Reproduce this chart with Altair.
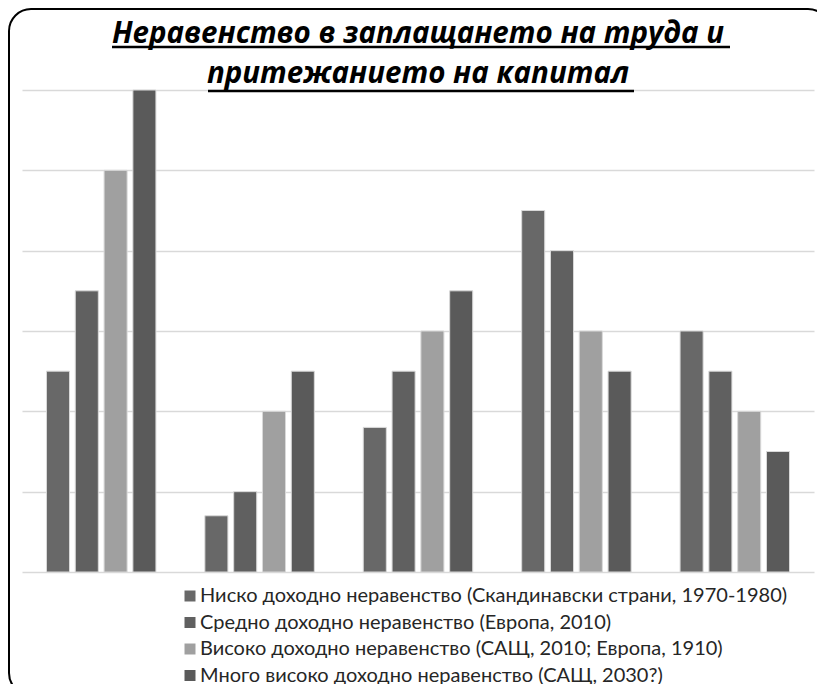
import altair as alt
import pandas as pd

groups = ["1", "2", "3", "4", "5"]
series = [
    "Ниско доходно неравенство (Скандинавски страни, 1970-1980)",
    "Средно доходно неравенство (Европа, 2010)",
    "Високо доходно неравенство (САЩ, 2010; Европа, 1910)",
    "Много високо доходно неравенство (САЩ, 2030?)",
]
low = [2.5, 0.7, 1.8, 4.5, 3.0]
mid = [3.5, 1.0, 2.5, 4.0, 2.5]
high = [5.0, 2.0, 3.0, 3.0, 2.0]
very_high = [6.0, 2.5, 3.5, 2.5, 1.5]
colors = ["#686868", "#606060", "#a0a0a0", "#5a5a5a"]
title_lines = ["Неравенство в заплащането на труда и", "притежанието на капитал"]

rows = []
for s, vals in zip(series, [low, mid, high, very_high]):
    for g, v in zip(groups, vals):
        rows.append({"group": g, "series": s, "value": v})
df = pd.DataFrame(rows)

W, H = 792, 482

bars = alt.Chart(df).mark_bar(stroke="#d9d9d9", strokeWidth=1).encode(
    x=alt.X("group:N", sort=groups, axis=None,
            scale=alt.Scale(paddingInner=0.309, paddingOuter=0.1545)),
    xOffset=alt.XOffset("series:N", sort=series,
                        scale=alt.Scale(paddingInner=0.2, paddingOuter=0.0)),
    y=alt.Y("value:Q", scale=alt.Scale(domain=[0, 6], nice=False),
            axis=alt.Axis(title=None, labels=False, ticks=False, domain=False,
                          grid=True, gridColor="#d9d9d9", gridWidth=1.5,
                          values=[0, 1, 2, 3, 4, 5, 6])),
    color=alt.Color("series:N", sort=series,
                    scale=alt.Scale(domain=series, range=colors),
                    legend=alt.Legend(title=None, orient="none", legendX=158, legendY=496,
                                      direction="vertical", symbolType="square",
                                      symbolSize=121, symbolStrokeWidth=0,
                                      labelFont="Lato", labelFontSize=20,
                                      labelColor="#262626", labelOffset=0,
                                      rowPadding=6.5, padding=0, labelLimit=0)),
)

blank = alt.Data(values=[{}])

frame = alt.Chart(blank).mark_rect(filled=False, stroke="black", strokeWidth=2,
                                   cornerRadius=22).encode(
    x=alt.value(-13), x2=alt.value(808), y=alt.value(-81), y2=alt.value(605)
)

underline1 = alt.Chart(blank).mark_rule(color="black", strokeWidth=2.5).encode(
    x=alt.value(90), x2=alt.value(708), y=alt.value(-43)
)
underline2 = alt.Chart(blank).mark_rule(color="black", strokeWidth=2.5).encode(
    x=alt.value(186), x2=alt.value(612), y=alt.value(1)
)

chart = alt.layer(frame, bars, underline1, underline2).properties(
    width=W, height=H,
    title=alt.TitleParams(text=title_lines, font="Open Sans", fontSize=29.5,
                          fontWeight="bold", fontStyle="italic", color="black",
                          lineHeight=40, anchor="middle", offset=-8, dy=73),
    autosize=alt.AutoSizeParams(type="none"),
    padding={"left": 14, "top": 82, "right": 3, "bottom": 112},
).configure_view(stroke=None)

chart.save("out.html", embed_options={"renderer": "svg", "actions": False})
